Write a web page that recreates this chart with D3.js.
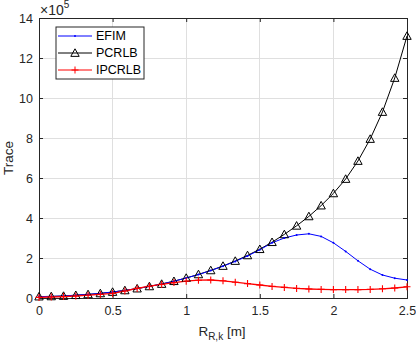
<!DOCTYPE html>
<html>
<head>
<meta charset="utf-8">
<script src="https://cdn.jsdelivr.net/npm/d3@7"></script>
<style>
  html, body { margin: 0; padding: 0; background: #fff; }
  svg { display: block; font-family: "Liberation Sans", Arial, Helvetica, sans-serif; }
</style>
</head>
<body>
<svg id="chart" width="416" height="347"></svg>
<script>
// ----- data (values in units of 1e5) -----
const xValues = d3.range(31).map(i => +(i * 2.5 / 30).toFixed(4));
const pcrlb = [0.07, 0.08, 0.10, 0.14, 0.18, 0.23, 0.30, 0.38, 0.47, 0.58,
               0.70, 0.84, 1.00, 1.18, 1.38, 1.60, 1.85, 2.13, 2.44, 2.79,
               3.18, 3.61, 4.08, 4.62, 5.23, 5.95, 6.85, 7.95, 9.30, 11.00, 13.10];
const efim  = [0.07, 0.08, 0.10, 0.14, 0.18, 0.23, 0.30, 0.38, 0.47, 0.58,
               0.70, 0.84, 1.00, 1.17, 1.37, 1.59, 1.83, 2.10, 2.41, 2.76,
               3.00, 3.15, 3.21, 3.08, 2.76, 2.33, 1.86, 1.44, 1.15, 0.99, 0.90];
const ipcrlb = [0.03, 0.05, 0.07, 0.10, 0.14, 0.18, 0.23, 0.35, 0.48, 0.59,
                0.68, 0.77, 0.84, 0.89, 0.90, 0.86, 0.79, 0.72, 0.65, 0.58,
                0.53, 0.48, 0.45, 0.43, 0.42, 0.42, 0.42, 0.43, 0.46, 0.50, 0.56];
const xTicks = [0, 0.5, 1, 1.5, 2, 2.5];
const yTicks = [0, 2, 4, 6, 8, 10, 12, 14];
const seriesNames = ["EFIM", "PCRLB", "IPCRLB"];

// ----- layout -----
const L = 39, T = 18, R = 407, B = 298;
const svg = d3.select("#chart");
const x = d3.scaleLinear().domain([0, 2.5]).range([L, R]);
const y = d3.scaleLinear().domain([0, 14]).range([B, T]);
const axisColor = "#262626";

// grid
svg.append("g").selectAll("line.gx").data(xTicks).join("line")
  .attr("x1", d => x(d)).attr("x2", d => x(d)).attr("y1", T).attr("y2", B)
  .attr("stroke", "#dfdfdf").attr("stroke-width", 1).attr("shape-rendering", "crispEdges");
svg.append("g").selectAll("line.gy").data(yTicks).join("line")
  .attr("x1", L).attr("x2", R).attr("y1", d => y(d)).attr("y2", d => y(d))
  .attr("stroke", "#dfdfdf").attr("stroke-width", 1).attr("shape-rendering", "crispEdges");

// axes (bottom, left) with inward ticks
const xAxis = d3.axisBottom(x).tickValues(xTicks).tickSize(-4).tickPadding(8)
  .tickFormat(d => String(d));
const yAxis = d3.axisLeft(y).tickValues(yTicks).tickSize(-4).tickPadding(6)
  .tickFormat(d => String(d));
const gx = svg.append("g").attr("transform", `translate(0,${B})`).call(xAxis);
const gy = svg.append("g").attr("transform", `translate(${L},0)`).call(yAxis);
// top and right axes (ticks only)
const gx2 = svg.append("g").attr("transform", `translate(0,${T})`)
  .call(d3.axisTop(x).tickValues(xTicks).tickSize(-4).tickFormat(""));
const gy2 = svg.append("g").attr("transform", `translate(${R},0)`)
  .call(d3.axisRight(y).tickValues(yTicks).tickSize(-4).tickFormat(""));
[gx, gy, gx2, gy2].forEach(g => {
  g.select(".domain").attr("stroke", axisColor).attr("stroke-width", 1);
  g.selectAll(".tick line").attr("stroke", axisColor);
  g.selectAll(".tick text").attr("fill", axisColor).attr("font-size", 12.5)
    .style("font-family", "'Liberation Sans', Arial, sans-serif");
});

// lines
const line = vals => d3.line().x((d, i) => x(xValues[i])).y(d => y(d))(vals);
svg.append("path").attr("d", line(pcrlb)).attr("fill", "none").attr("stroke", "#000").attr("stroke-width", 1);
svg.append("path").attr("d", line(efim)).attr("fill", "none").attr("stroke", "#0000ff").attr("stroke-width", 1);
svg.append("path").attr("d", line(ipcrlb)).attr("fill", "none").attr("stroke", "#ff0000").attr("stroke-width", 1.3);

// markers
const tri = (cx, cy, s = 4.2) =>
  `M${cx},${cy - s}L${cx + s},${cy + s * 0.8}L${cx - s},${cy + s * 0.8}Z`;
svg.append("g").selectAll("path").data(pcrlb).join("path")
  .attr("d", (d, i) => tri(x(xValues[i]), y(d)))
  .attr("fill", "none").attr("stroke", "#000").attr("stroke-width", 1);
svg.append("g").selectAll("circle").data(efim).join("circle")
  .attr("cx", (d, i) => x(xValues[i])).attr("cy", d => y(d)).attr("r", 1)
  .attr("fill", "#0000ff");
const plus = (cx, cy, s = 3.5) => `M${cx - s},${cy}H${cx + s}M${cx},${cy - s}V${cy + s}`;
svg.append("g").selectAll("path").data(ipcrlb).join("path")
  .attr("d", (d, i) => plus(x(xValues[i]), y(d)))
  .attr("stroke", "#ff0000").attr("stroke-width", 1.1);

// exponent label
const ex = svg.append("text").attr("x", 40).attr("y", 15).attr("font-size", 14).attr("fill", axisColor);
ex.append("tspan").text("\u00d710");
ex.append("tspan").attr("dy", -7).attr("font-size", 10).text("5");

// axis labels
svg.append("text").attr("transform", `translate(13,${(T + B) / 2}) rotate(-90)`)
  .attr("text-anchor", "middle").attr("font-size", 13.5).attr("fill", axisColor).text("Trace");
const xl = svg.append("text").attr("x", 222).attr("y", 336).attr("text-anchor", "middle")
  .attr("font-size", 13.5).attr("fill", axisColor);
xl.append("tspan").text("R");
xl.append("tspan").attr("dy", 4).attr("font-size", 10).text("R,k");
xl.append("tspan").attr("dy", -4).text(" [m]");

// legend
const lg = svg.append("g");
lg.append("rect").attr("x", 56).attr("y", 27).attr("width", 88).attr("height", 52)
  .attr("fill", "#fff").attr("stroke", axisColor).attr("stroke-width", 1);
const ly = [36, 53, 70];
const lcol = ["#0000ff", "#000", "#ff0000"];
seriesNames.forEach((name, i) => {
  lg.append("line").attr("x1", 58).attr("x2", 92).attr("y1", ly[i]).attr("y2", ly[i])
    .attr("stroke", lcol[i]).attr("stroke-width", 1);
  if (i === 0) lg.append("circle").attr("cx", 75).attr("cy", ly[i]).attr("r", 1).attr("fill", lcol[i]);
  if (i === 1) lg.append("path").attr("d", tri(75, ly[i])).attr("fill", "none").attr("stroke", "#000");
  if (i === 2) lg.append("path").attr("d", plus(75, ly[i])).attr("stroke", "#ff0000");
  lg.append("text").attr("x", 96).attr("y", ly[i]).attr("dy", "0.35em")
    .attr("font-size", 12.5).attr("fill", "#000").text(name);
});
</script>
</body>
</html>
